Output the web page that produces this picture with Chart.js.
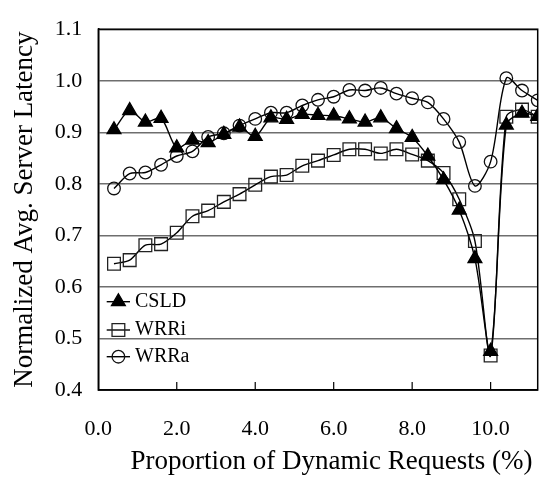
<!DOCTYPE html>
<html>
<head>
<meta charset="utf-8">
<script src="https://cdn.jsdelivr.net/npm/chart.js@4/dist/chart.umd.min.js"></script>
<style>
html,body{margin:0;padding:0;background:#fff;}
#wrap{width:550px;height:486px;position:relative;}
</style>
</head>
<body>
<div id="wrap"><canvas id="c"></canvas></div>
<script>
const xValues = [0.4,0.8,1.2,1.6,2.0,2.4,2.8,3.2,3.6,4.0,4.4,4.8,5.2,5.6,6.0,6.4,6.8,7.2,7.6,8.0,8.4,8.8,9.2,9.6,10.0,10.4,10.8,11.2];
const csld = [0.905,0.942,0.920,0.927,0.870,0.885,0.880,0.896,0.910,0.892,0.928,0.925,0.935,0.933,0.932,0.926,0.920,0.928,0.907,0.890,0.854,0.808,0.749,0.655,0.475,0.914,0.937,0.931];
const wrri = [0.645,0.652,0.681,0.683,0.705,0.737,0.748,0.765,0.780,0.798,0.814,0.817,0.835,0.845,0.856,0.867,0.867,0.859,0.867,0.857,0.845,0.821,0.770,0.689,0.467,0.930,0.944,0.930];
const wrra = [0.791,0.820,0.822,0.837,0.854,0.863,0.891,0.898,0.913,0.926,0.938,0.938,0.952,0.963,0.969,0.982,0.981,0.986,0.975,0.966,0.958,0.926,0.881,0.796,0.843,1.005,0.981,0.962];
const seriesNames = ['CSLD','WRRi','WRRa'];
const xTickValues = [2,4,6,8,10];
const xTitle = 'Proportion of Dynamic Requests (%)';
const yTitle = 'Normalized Avg. Server Latency';

const serif = "'Liberation Serif','Times New Roman',serif";
const toPts = arr => arr.map((v,i)=>({x:xValues[i], y:v}));

const styles = [
  {pointStyle:'triangle', radius:8, backgroundColor:'#000', borderColor:'#000'},
  {pointStyle:'rect', radius:9, backgroundColor:'rgba(0,0,0,0)', borderColor:'#222'},
  {pointStyle:'circle', radius:6.3, backgroundColor:'rgba(0,0,0,0)', borderColor:'#111'}
];
const dataArrs = [csld, wrri, wrra];

const datasets = dataArrs.map((arr,i)=>({
  label: seriesNames[i],
  data: toPts(arr),
  borderColor:'#000',
  borderWidth:1.4,
  tension:0.3,
  pointStyle: styles[i].pointStyle,
  pointRadius: styles[i].radius,
  pointBackgroundColor: styles[i].backgroundColor,
  pointBorderColor: styles[i].borderColor,
  pointBorderWidth:1.3,
  fill:false
}));

const framePlugin = {
  id:'frame',
  afterDatasetsDraw(chart){
    const {ctx, chartArea:a, scales} = chart;
    ctx.save();
    ctx.strokeStyle='#000';
    ctx.lineWidth=1.5;
    ctx.strokeRect(a.left, a.top, a.right-a.left, a.bottom-a.top);
    ctx.lineWidth=1.2;
    xTickValues.forEach(v=>{
      const px = scales.x.getPixelForValue(v);
      ctx.beginPath();
      ctx.moveTo(px, a.bottom);
      ctx.lineTo(px, a.bottom-8);
      ctx.stroke();
    });
    // legend
    const offs = [88.3, 60, 33.3];
    ctx.font = "20px " + serif;
    ctx.textBaseline = 'middle';
    ctx.textAlign = 'left';
    seriesNames.forEach((name,i)=>{
      const y = a.bottom - offs[i];
      const x0 = a.left + 8.4;
      ctx.lineWidth = 1.4;
      ctx.strokeStyle = '#000';
      ctx.beginPath();
      ctx.moveTo(x0, y);
      ctx.lineTo(x0+23.3, y);
      ctx.stroke();
      ctx.fillStyle = styles[i].backgroundColor;
      ctx.strokeStyle = styles[i].borderColor;
      ctx.lineWidth = 1.3;
      Chart.helpers.drawPoint(ctx, {pointStyle: styles[i].pointStyle, radius: styles[i].radius, rotation:0, borderWidth:1.3}, x0+11.7, y);
      ctx.fillStyle = '#000';
      ctx.fillText(name, a.left + 36.7, y);
    });
    // x axis title
    ctx.font = "27px " + serif;
    ctx.textAlign = 'center';
    ctx.textBaseline = 'middle';
    ctx.fillStyle = '#000';
    ctx.fillText(xTitle, a.left + 233.2, a.bottom + 72);
    ctx.restore();
  }
};

new Chart(document.getElementById('c'), {
  type:'line',
  data:{datasets},
  plugins:[framePlugin],
  options:{
    responsive:true,
    maintainAspectRatio:false,
    animation:false,
    layout:{padding:{top:15, right:12.3, left:0, bottom:0}},
    plugins:{legend:{display:false}, tooltip:{enabled:false}},
    scales:{
      x:{
        type:'linear',
        min:0, max:11.2,
        grid:{display:false},
        border:{display:true, color:'#000', width:1.5},
        ticks:{
          stepSize:2, includeBounds:false, padding:18,
          color:'#000', font:{family:serif, size:22},
          callback:v=>Number(v).toFixed(1)
        },
        title:{display:false},
        afterFit:s=>{ s.height = 96; }
      },
      y:{
        min:0.4, max:1.1,
        grid:{color:'#6e6e6e', lineWidth:1.4, drawTicks:false},
        border:{display:true, color:'#000', width:1.5},
        ticks:{
          stepSize:0.1, padding:16,
          color:'#000', font:{family:serif, size:22},
          callback:v=>Number(v).toFixed(1)
        },
        title:{display:true, text:yTitle, color:'#000',
          font:{family:serif, size:27}, padding:{top:8.8, bottom:4}},
        afterFit:s=>{ s.width = 98.3; }
      }
    }
  }
});
</script>
</body>
</html>
